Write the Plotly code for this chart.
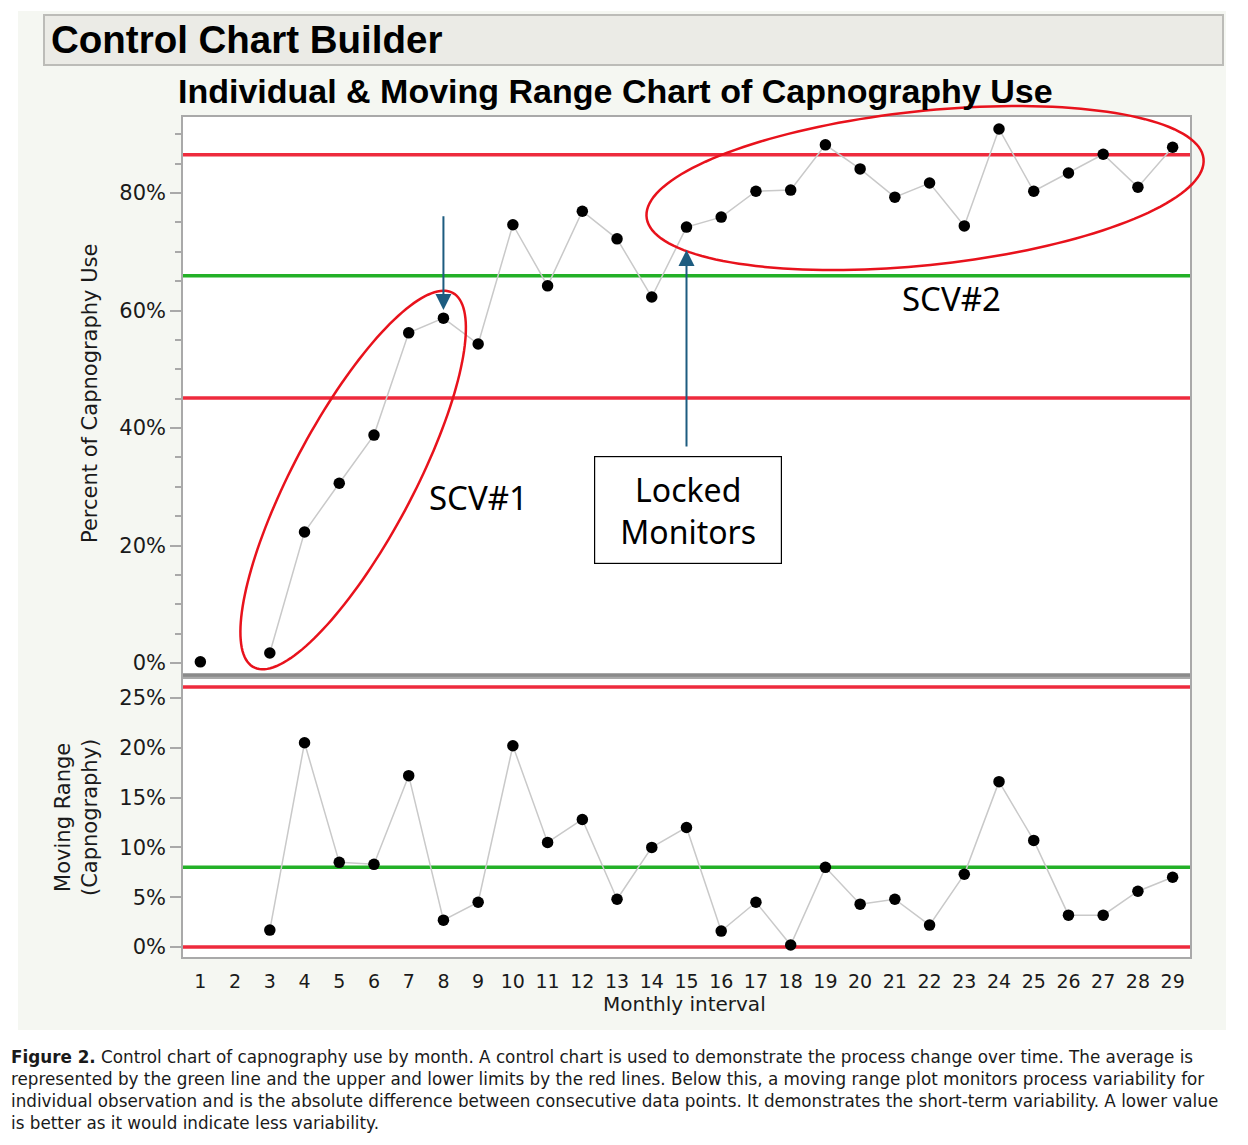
import numpy as np
import plotly.graph_objects as go

# Data
MONTHS = list(range(1, 30))
CAPNO_USE = [0.2, None, 1.7, 22.3, 30.6, 38.8, 56.2, 58.7, 54.3, 74.6,
             64.2, 76.9, 72.2, 62.3, 74.2, 75.9, 80.3, 80.5, 88.2, 84.1,
             79.3, 81.7, 74.4, 90.9, 80.3, 83.4, 86.6, 81.0, 87.8]
MOVING_RANGE = [None, None, 1.7, 20.5, 8.5, 8.3, 17.2, 2.7, 4.5, 20.2,
                10.5, 12.8, 4.8, 10.0, 12.0, 1.6, 4.5, 0.2, 8.0, 4.3,
                4.8, 2.2, 7.3, 16.6, 10.7, 3.2, 3.2, 5.6, 7.0]

IND_UCL, IND_CL, IND_LCL = 86.5, 65.9, 45.1
MR_UCL, MR_CL, MR_LCL = 26.1, 8.0, 0.0

CAPTION = ("<b>Figure 2.</b> Control chart of capnography use by month. A control chart is used to "
           "demonstrate the process change over time. The average is<br>represented by the green line "
           "and the upper and lower limits by the red lines. Below this, a moving range plot monitors "
           "process variability for<br>individual observation and is the absolute difference between "
           "consecutive data points. It demonstrates the short-term variability. A lower value<br>"
           "is better as it would indicate less variability.")

# page geometry (pixels in the page; the page body adds an 8px margin)
OFF = 8
W, H = 1248 - OFF, 1145 - OFF
PLOT_L, PLOT_R = 183, 1190
TOP_T, TOP_B = 117, 675
BOT_T, BOT_B = 679, 957
X_RANGE = [0.5, 29.5]
Y1_RANGE = [-2.04, 92.94]
Y2_RANGE = [-1.0, 26.9]

RED = "#ee2b3d"
GREEN = "#23b027"
ARROW_BLUE = "#1d5c80"
FRAME = "#a9a9a9"
CHART_FONT = "DejaVu Sans"
NOTE_FONT = "Noto Sans"


def px(x):
    return (x - OFF) / W


def py(y):
    return 1 - (y - OFF) / H


def ellipse_path(cx, cy, a, b, angle):
    # centre in top-chart data units, a/b in screen pixels, angle in degrees
    xs = (PLOT_R - PLOT_L) / (X_RANGE[1] - X_RANGE[0])
    ys = (TOP_B - TOP_T) / (Y1_RANGE[1] - Y1_RANGE[0])
    cx_px = PLOT_L + (cx - X_RANGE[0]) * xs
    cy_px = TOP_B - (cy - Y1_RANGE[0]) * ys
    th = np.radians(angle)
    t = np.linspace(0, 2 * np.pi, 160)
    dx = a * np.cos(t) * np.cos(th) - b * np.sin(t) * np.sin(th)
    dy = a * np.cos(t) * np.sin(th) + b * np.sin(t) * np.cos(th)
    pts = [f"{px(cx_px + u):.5f},{py(cy_px - v):.5f}" for u, v in zip(dx, dy)]
    return "M " + " L ".join(pts) + " Z"


fig = go.Figure()

fig.add_trace(go.Scatter(
    x=MONTHS, y=CAPNO_USE, mode="lines+markers", connectgaps=False,
    line=dict(color="#c9c9c9", width=1.5),
    marker=dict(color="black", size=11.5),
    xaxis="x", yaxis="y", showlegend=False, hoverinfo="x+y"))

fig.add_trace(go.Scatter(
    x=MONTHS, y=MOVING_RANGE, mode="lines+markers", connectgaps=False,
    line=dict(color="#c9c9c9", width=1.5),
    marker=dict(color="black", size=11.5),
    xaxis="x2", yaxis="y2", showlegend=False, hoverinfo="x+y"))

shapes = [
    # light panel and title bar
    dict(type="rect", xref="paper", yref="paper", x0=px(18), x1=px(1226), y0=py(1030), y1=py(11),
         fillcolor="#f5f7f2", line=dict(width=0), layer="below"),
    dict(type="rect", xref="paper", yref="paper", x0=px(44), x1=px(1223), y0=py(65), y1=py(15),
         fillcolor="#ebebe6", line=dict(color="#bcbcb8", width=2), layer="below"),
    dict(type="rect", xref="paper", yref="paper", x0=px(PLOT_L), x1=px(PLOT_R), y0=py(TOP_B), y1=py(TOP_T),
         fillcolor="white", line=dict(width=0), layer="below"),
    dict(type="rect", xref="paper", yref="paper", x0=px(PLOT_L), x1=px(PLOT_R), y0=py(BOT_B), y1=py(BOT_T),
         fillcolor="white", line=dict(width=0), layer="below"),
]

# control limits
for yref, vals in (("y", (IND_UCL, IND_CL, IND_LCL)), ("y2", (MR_UCL, MR_CL, MR_LCL))):
    for v, c in zip(vals, (RED, GREEN, RED)):
        shapes.append(dict(type="line", xref="x domain" if yref == "y" else "x2 domain", yref=yref,
                           x0=0, x1=1, y0=v, y1=v, line=dict(color=c, width=3.5), layer="below"))

# thick divider under the top chart
shapes.append(dict(type="line", xref="paper", yref="paper", x0=px(PLOT_L), x1=px(PLOT_R),
                   y0=py(TOP_B), y1=py(TOP_B), line=dict(color="#8a8a8a", width=3.5)))

# SCV ellipses (paper coords so they can run past the frame)
shapes.append(dict(type="path", xref="paper", yref="paper", path=ellipse_path(5.40, 31.15, 212, 60, 62),
                   line=dict(color="#e8121c", width=2.5)))
shapes.append(dict(type="path", xref="paper", yref="paper", path=ellipse_path(21.87, 80.85, 280, 77, 6),
                   line=dict(color="#e8121c", width=2.5)))

annotations = [
    dict(text="Control Chart Builder", xref="paper", yref="paper", x=px(49), y=py(40),
         xanchor="left", yanchor="middle", showarrow=False,
         font=dict(family="Liberation Sans", size=38.5, color="black", weight="bold")),
    dict(text="Individual &amp; Moving Range Chart of Capnography Use", xref="paper", yref="paper",
         x=px(615), y=py(91), xanchor="center", yanchor="middle", showarrow=False,
         font=dict(family="Liberation Sans", size=34, color="black", weight="bold")),
    dict(text="Percent of Capnography Use", xref="paper", yref="paper", x=px(90), y=py(394),
         textangle=-90, showarrow=False, xanchor="center", yanchor="middle",
         font=dict(family=CHART_FONT, size=21, color="#1a1a1a")),
    dict(text="Moving Range<br>(Capnography)", xref="paper", yref="paper", x=px(76), y=py(818),
         textangle=-90, showarrow=False, xanchor="center", yanchor="middle",
         font=dict(family=CHART_FONT, size=21, color="#1a1a1a")),
    dict(text="Monthly interval", xref="paper", yref="paper", x=px(684), y=py(1004),
         showarrow=False, xanchor="center", yanchor="middle",
         font=dict(family=CHART_FONT, size=20, color="#1a1a1a")),
    # notes
    dict(text="SCV#1", xref="x", yref="y", x=9.0, y=28.1, showarrow=False,
         font=dict(family=NOTE_FONT, size=33, color="black")),
    dict(text="SCV#2", xref="x", yref="y", x=22.62, y=62.0, showarrow=False,
         font=dict(family=NOTE_FONT, size=33, color="black")),
    dict(text="Locked<br>Monitors", xref="x", yref="y", x=15.04, y=26.0, showarrow=False,
         width=180, height=100, bgcolor="white", bordercolor="black", borderwidth=1.2, borderpad=3,
         font=dict(family=NOTE_FONT, size=32, color="black")),
    # arrows
    dict(text="", xref="x", yref="y", x=8, y=60.1, axref="x", ayref="y", ax=8, ay=76.3,
         showarrow=True, arrowhead=2, arrowsize=1.6, arrowwidth=2, arrowcolor=ARROW_BLUE, standoff=0),
    dict(text="", xref="x", yref="y", x=15, y=70.3, axref="x", ayref="y", ax=15, ay=36.6,
         showarrow=True, arrowhead=2, arrowsize=1.6, arrowwidth=2, arrowcolor=ARROW_BLUE, standoff=0),
    # caption
    dict(text=CAPTION, xref="paper", yref="paper", x=px(9), y=py(1045), xanchor="left", yanchor="top",
         align="left", showarrow=False,
         font=dict(family="DejaVu Sans", size=16.8, color="#1a1a1a")),
]

axis_common = dict(showgrid=False, zeroline=False, showline=True, mirror=True,
                   linecolor=FRAME, linewidth=1.5, automargin=False)

fig.update_layout(
    width=W, height=H,
    margin=dict(l=0, r=0, t=0, b=0),
    paper_bgcolor="white", plot_bgcolor="white",
    shapes=shapes, annotations=annotations,
    xaxis=dict(domain=[px(PLOT_L), px(PLOT_R)], range=X_RANGE, showticklabels=False, ticks="",
               anchor="y", **axis_common),
    yaxis=dict(domain=[py(TOP_B), py(TOP_T)], range=Y1_RANGE, anchor="x",
               tickmode="linear", tick0=0, dtick=20, ticksuffix="%",
               ticks="outside", ticklen=11, tickcolor=FRAME, tickwidth=1.5,
               minor=dict(tickmode="linear", tick0=0, dtick=5, ticks="outside", ticklen=6,
                          tickcolor=FRAME, tickwidth=1.5, showgrid=False),
               tickfont=dict(family=CHART_FONT, size=21, color="#1a1a1a"), **axis_common),
    xaxis2=dict(domain=[px(PLOT_L), px(PLOT_R)], range=X_RANGE, anchor="y2",
                tickmode="array", tickvals=MONTHS, ticktext=[str(m) for m in MONTHS],
                ticks="outside", ticklen=6, tickcolor="rgba(0,0,0,0)",
                tickfont=dict(family=CHART_FONT, size=19, color="#1a1a1a"), **axis_common),
    yaxis2=dict(domain=[py(BOT_B), py(BOT_T)], range=Y2_RANGE, anchor="x2",
                tickmode="linear", tick0=0, dtick=5, ticksuffix="%",
                ticks="outside", ticklen=11, tickcolor=FRAME, tickwidth=1.5,
                tickfont=dict(family=CHART_FONT, size=21, color="#1a1a1a"), **axis_common),
)

fig.write_html("out.html")
